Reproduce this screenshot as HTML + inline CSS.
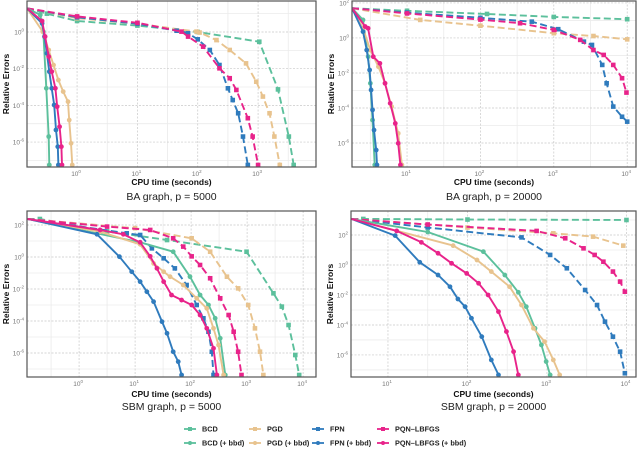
<!DOCTYPE html>
<html><head><meta charset="utf-8">
<style>
html,body{margin:0;padding:0;background:#fff;}
svg{display:block;font-family:"Liberation Sans",sans-serif;}
</style></head>
<body>
<svg id="chart" width="640" height="449" viewBox="0 0 640 449"></svg>
<script>
// Values are stored as log10(x), log10(y) pairs.
// Top-left: BA graph, p = 5000
const tlBcd = [[-0.83,1.29],[-0.5,1.0],[0,0.6],[1,0.35],[2,0.0],[3.02,-0.53],[3.33,-3.13],[3.51,-5.70],[3.59,-7.25]];
const tlPgd = [[-0.83,1.29],[0,0.75],[1,0.45],[1.98,0.02],[2.03,-0.03],[2.31,-0.44],[2.53,-0.98],[2.80,-1.71],[2.97,-2.71],[3.08,-3.52],[3.19,-4.43],[3.27,-5.70],[3.36,-7.25]];
const tlFpn = [[-0.83,1.29],[0,0.8],[1,0.45],[1.65,0.07],[1.84,-0.07],[2.0,-0.40],[2.20,-0.98],[2.36,-1.80],[2.50,-3.07],[2.58,-3.71],[2.67,-4.43],[2.75,-5.70],[2.83,-7.25]];
const tlPqn = [[-0.83,1.29],[0,0.85],[1,0.5],[1.73,0.02],[1.84,-0.25],[2.09,-0.80],[2.36,-1.98],[2.53,-2.52],[2.64,-3.16],[2.83,-4.70],[2.91,-5.70],[3.0,-7.25]];
const tlBcdB = [[-0.83,1.29],[-0.61,0.93],[-0.56,0.02],[-0.51,-3.07],[-0.47,-5.70],[-0.46,-7.25]];
const tlPgdB = [[-0.83,1.29],[-0.57,0.02],[-0.47,-0.98],[-0.39,-1.80],[-0.31,-2.62],[-0.23,-3.25],[-0.15,-3.80],[-0.13,-4.80],[-0.10,-6.07],[-0.08,-7.25]];
const tlFpnB = [[-0.83,1.29],[-0.58,0.47],[-0.54,-0.25],[-0.50,-1.16],[-0.46,-2.16],[-0.42,-3.07],[-0.38,-3.98],[-0.35,-5.34],[-0.32,-6.25],[-0.31,-7.25]];
const tlPqnB = [[-0.83,1.29],[-0.58,0.6],[-0.53,-0.25],[-0.47,-1.34],[-0.42,-2.16],[-0.36,-3.07],[-0.33,-4.07],[-0.29,-5.16],[-0.26,-6.25],[-0.25,-7.25]];
// Top-right: BA graph, p = 20000
const trBcd = [[0.25,1.70],[1,1.55],[2.09,1.37],[3,1.2],[4.0,1.07]];
const trPgd = [[0.25,1.70],[1.18,1.03],[2,0.7],[3.0,0.27],[3.54,0.11],[4.0,-0.08]];
const trFpn = [[0.25,1.70],[1,1.45],[2,1.15],[2.70,0.93],[3.06,0.50],[3.41,-0.21],[3.52,-0.40],[3.66,-1.54],[3.72,-2.59],[3.81,-3.92],[3.93,-4.50],[4.0,-4.78]];
const trPqn = [[0.25,1.70],[1,1.4],[2,1.05],[2.54,0.84],[3.0,0.46],[3.36,-0.11],[3.54,-0.69],[3.68,-0.97],[3.81,-1.54],[3.93,-2.30],[3.99,-3.12]];
const trBcdB = [[0.25,1.70],[0.40,1.03],[0.47,-1.07],[0.50,-2.59],[0.53,-4.69],[0.56,-7.25]];
const trPgdB = [[0.25,1.70],[0.40,0.55],[0.50,-0.69],[0.61,-1.64],[0.70,-2.59],[0.79,-3.92],[0.88,-5.45],[0.93,-7.25]];
const trFpnB = [[0.25,1.70],[0.40,0.36],[0.45,-0.69],[0.49,-1.83],[0.51,-2.97],[0.53,-4.11],[0.55,-5.26],[0.58,-6.4],[0.59,-7.25]];
const trPqnB = [[0.25,1.70],[0.43,0.65],[0.47,0.55],[0.54,-1.07],[0.63,-1.45],[0.70,-2.59],[0.77,-3.73],[0.84,-4.88],[0.88,-6.02],[0.91,-7.25]];
// Bottom-left: SBM graph, p = 5000
const blBcd = [[-0.92,2.375],[-0.70,2.375],[0.5,1.6],[1.57,1.06],[2.99,0.33],[3.47,-2.27],[3.62,-3.1],[3.74,-4.25],[3.86,-6.125],[3.93,-7.375]];
const blPgd = [[-0.92,2.375],[1,1.8],[2.01,1.17],[2.34,0.33],[2.64,-1.23],[2.84,-1.96],[3.02,-3.0],[3.14,-4.46],[3.23,-5.92],[3.29,-7.375]];
const blFpn = [[-0.92,2.375],[0.85,1.48],[1.09,1.375],[1.30,0.54],[1.51,-0.08],[1.71,-0.71],[1.92,-1.75],[2.10,-3.0],[2.22,-3.83],[2.31,-4.67],[2.37,-5.92],[2.40,-7.375]];
const blPqn = [[-0.92,2.375],[0.5,1.9],[1.27,1.69],[1.68,1.17],[1.86,0.65],[2.01,0.04],[2.16,-0.5],[2.34,-1.33],[2.52,-2.58],[2.67,-3.625],[2.76,-4.67],[2.84,-5.92],[2.90,-7.375]];
const blBcdB = [[-0.92,2.375],[1.09,0.92],[1.68,0.33],[1.98,-1.23],[2.16,-2.375],[2.31,-3.0],[2.43,-3.83],[2.52,-5.08],[2.61,-7.375]];
const blPgdB = [[-0.92,2.375],[0.375,1.58],[1.09,0.79],[1.33,-0.40],[1.51,-0.92],[1.625,-1.23],[1.86,-1.75],[2.10,-2.58],[2.28,-3.21],[2.40,-4.46],[2.49,-5.5],[2.58,-7.375]];
const blFpnB = [[-0.92,2.375],[0.32,1.42],[0.72,0.02],[0.94,-0.92],[1.09,-1.54],[1.21,-2.17],[1.33,-2.79],[1.48,-4.04],[1.57,-4.77],[1.68,-5.92],[1.77,-6.54],[1.83,-7.375]];
const blPqnB = [[-0.92,2.375],[0.375,1.69],[0.79,1.42],[1.09,0.92],[1.27,0.04],[1.39,-0.71],[1.51,-1.54],[1.65,-2.375],[1.83,-2.69],[2.01,-3.0],[2.16,-3.625],[2.28,-4.46],[2.40,-5.71],[2.46,-7.375]];
// Bottom-right: SBM graph, p = 20000
const brBcd = [[0.54,3.07],[0.69,3.07],[2,3.03],[4.0,3.0]];
const brPgd = [[0.54,3.07],[2,2.5],[3.08,2.11],[3.58,1.89],[3.96,1.29]];
const brFpn = [[0.54,3.07],[1.5,2.5],[2.68,1.84],[3.04,0.67],[3.25,-0.22],[3.48,-1.67],[3.63,-2.67],[3.73,-3.78],[3.83,-4.78],[3.92,-5.78],[3.98,-7.22]];
const brPqn = [[0.54,3.07],[1.5,2.7],[2.87,2.27],[3.23,1.78],[3.46,1.11],[3.60,0.67],[3.71,0.22],[3.83,-0.44],[3.92,-1.11],[3.98,-1.78]];
const brBcdB = [[0.54,3.07],[1.5,2.2],[2.20,0.89],[2.47,-0.67],[2.64,-1.82],[2.74,-2.78],[2.85,-4.22],[2.93,-5.33],[2.99,-6.44],[3.04,-7.33]];
const brPgdB = [[0.54,3.07],[1.82,1.29],[2.12,0.33],[2.30,-0.44],[2.53,-1.45],[2.68,-2.67],[2.83,-4.22],[2.97,-5.11],[3.08,-6.33],[3.16,-7.33]];
const brFpnB = [[0.54,3.07],[1.09,1.96],[1.40,0.18],[1.63,-0.67],[1.78,-1.45],[1.88,-2.27],[1.97,-2.78],[2.05,-3.55],[2.18,-4.78],[2.30,-6.33],[2.39,-7.33]];
const brPqnB = [[0.54,3.07],[1.11,2.27],[1.42,1.51],[1.63,0.78],[1.80,0.11],[1.99,-0.56],[2.14,-1.22],[2.26,-2.0],[2.39,-3.11],[2.49,-4.44],[2.58,-5.78],[2.64,-7.33]];

const tlXTicks = [0,1,2,3];  const tlYTicks = [0,-2,-4,-6];
const trXTicks = [1,2,3,4];  const trYTicks = [2,0,-2,-4,-6];
const blXTicks = [0,1,2,3,4]; const blYTicks = [2,0,-2,-4,-6];
const brXTicks = [1,2,3,4];  const brYTicks = [2,0,-2,-4,-6];
const panelTitles = ["BA graph, p = 5000","BA graph, p = 20000","SBM graph, p = 5000","SBM graph, p = 20000"];
const methodNames = ["BCD","PGD","FPN","PQN\u2013LBFGS"];
const colors = ["#5cc09c","#e8c38e","#2f7bbd","#e8238a"];

const NS="http://www.w3.org/2000/svg";
const svg=document.getElementById('chart');
function mk(tag,attrs,parent){const e=document.createElementNS(NS,tag);for(const k in attrs)e.setAttribute(k,attrs[k]);(parent||svg).appendChild(e);return e;}

const panels=[
 {name:"ba-5000",box:[27,1,316,167],xr:[-0.83,3.96],yr:[-7.36,1.69],xt:tlXTicks,yt:tlYTicks,series:[tlBcd,tlPgd,tlFpn,tlPqn,tlBcdB,tlPgdB,tlFpnB,tlPqnB],title:panelTitles[0],xlY:183,tY:200},
 {name:"ba-20000",box:[352,1,636,167],xr:[0.25,4.12],yr:[-7.37,2.11],xt:trXTicks,yt:trYTicks,series:[trBcd,trPgd,trFpn,trPqn,trBcdB,trPgdB,trFpnB,trPqnB],title:panelTitles[1],xlY:183,tY:200},
 {name:"sbm-5000",box:[27,211,316,377],xr:[-0.93,4.23],yr:[-7.5,2.875],xt:blXTicks,yt:blYTicks,series:[blBcd,blPgd,blFpn,blPqn,blBcdB,blPgdB,blFpnB,blPqnB],title:panelTitles[2],xlY:395,tY:410},
 {name:"sbm-20000",box:[351,211,636,377],xr:[0.535,4.12],yr:[-7.47,3.6],xt:brXTicks,yt:brYTicks,series:[brBcd,brPgd,brFpn,brPqn,brBcdB,brPgdB,brFpnB,brPqnB],title:panelTitles[3],xlY:395,tY:410}
];

panels.forEach((p,pi)=>{
 const [x0,y0,x1,y1]=p.box;
 const sx=v=>x0+(v-p.xr[0])/(p.xr[1]-p.xr[0])*(x1-x0);
 const sy=v=>y1-(v-p.yr[0])/(p.yr[1]-p.yr[0])*(y1-y0);
 const g=mk('g',{});
 
 
 const cp=mk('clipPath',{id:'cp'+pi},g);
 mk('rect',{x:x0,y:y0,width:x1-x0,height:y1-y0},cp);
 for(let v=Math.ceil(p.yr[0]);v<=p.yr[1];v++){ if(p.yt.indexOf(v)<0){const l=mk('line',{x1:x0,x2:x1,y1:sy(v),y2:sy(v),stroke:"#ebebeb","stroke-width":0.8},g);}}
 for(let v=Math.floor(p.xr[0])+0.5;v<=p.xr[1];v+=1){ if(v>p.xr[0]){const l=mk('line',{x1:sx(v),x2:sx(v),y1:y0,y2:y1,stroke:"#ebebeb","stroke-width":0.8},g);}}
 p.yt.forEach(v=>{
  const l=mk('line',{x1:x0,x2:x1,y1:sy(v),y2:sy(v),stroke:"#c8c8c8","stroke-width":0.7,"stroke-dasharray":"2,1.5"},g);
  
  
  const t=mk('text',{x:x0-3,y:sy(v)+2.5,"text-anchor":"end","font-size":6.5,fill:"#777"},g);
  
  
  t.textContent='10';
  const s=mk('tspan',{dy:-3,"font-size":4.5},t);s.textContent=String(v);
 });
 p.xt.forEach(v=>{
  const l=mk('line',{x1:sx(v),x2:sx(v),y1:y0,y2:y1,stroke:"#c8c8c8","stroke-width":0.7,"stroke-dasharray":"2,1.5"},g);
  
  
  const t=mk('text',{x:sx(v)-1,y:y1+9,"text-anchor":"middle","font-size":6.5,fill:"#777"},g);
  
  
  t.textContent='10';
  const s=mk('tspan',{dy:-3,"font-size":4.5},t);s.textContent=String(v);
 });
 const sg=mk('g',{"clip-path":"url(#cp"+pi+")"},g);
 p.series.forEach((ser,si)=>{
  const m=si%4, bbd=si>=4, c=colors[m];
  const d=ser.map((pt,i)=>(i?'L':'M')+sx(pt[0]).toFixed(1)+','+sy(pt[1]).toFixed(1)).join('');
  const path=mk('path',{d:d,fill:"none",stroke:c,"stroke-width":1.9,"stroke-dasharray":bbd?"none":"7,3.5","stroke-linejoin":"round"},sg);
  
  
  ser.forEach((pt,i)=>{
   if(i===0) return;
   let mark;
   if(bbd) mark=mk('circle',{cx:sx(pt[0]),cy:sy(pt[1]),r:2.4,fill:c},sg);
   else mark=mk('rect',{x:sx(pt[0])-2.3,y:sy(pt[1])-2.3,width:4.6,height:4.6,fill:c},sg);
   
   
  });
 });
 const b=mk('rect',{x:x0,y:y0,width:x1-x0,height:y1-y0,fill:"none",stroke:"#555","stroke-width":1.2},g);
 
 
 const yl=mk('text',{transform:`translate(${x0-18},${(y0+y1)/2}) rotate(-90)`,"text-anchor":"middle","font-size":8.5,"font-weight":"bold",fill:"#111"},g);
 
 
 yl.textContent='Relative Errors';
 const xl=mk('text',{x:(x0+x1)/2,y:p.xlY+2,"text-anchor":"middle","font-size":8.5,"font-weight":"bold",fill:"#111"},g);
 
 
 xl.textContent='CPU time (seconds)';
 const tt=mk('text',{x:(x0+x1)/2,y:p.tY,"text-anchor":"middle","font-size":10.5,fill:"#222"},g);
 
 
 tt.textContent=p.title;
});

const legX=[190,255,318,383];
const lg=mk('g',{});


[0,1].forEach(row=>{
 methodNames.forEach((n,m)=>{
  const y=row?443:429, x=legX[m], c=colors[m];
  const e=mk('g',{},lg);
  
  
  mk('line',{x1:x-6,x2:x+6,y1:y,y2:y,stroke:c,"stroke-width":1.8},e);
  if(row) mk('circle',{cx:x,cy:y,r:2,fill:c},e); else mk('rect',{x:x-2,y:y-2,width:4,height:4,fill:c},e);
  const t=mk('text',{x:x+12,y:y+2.5,"font-size":7.3,"font-weight":"bold",fill:"#222"},e);
  t.textContent=n+(row?' (+ bbd)':'');
 });
});
</script>
</body></html>
